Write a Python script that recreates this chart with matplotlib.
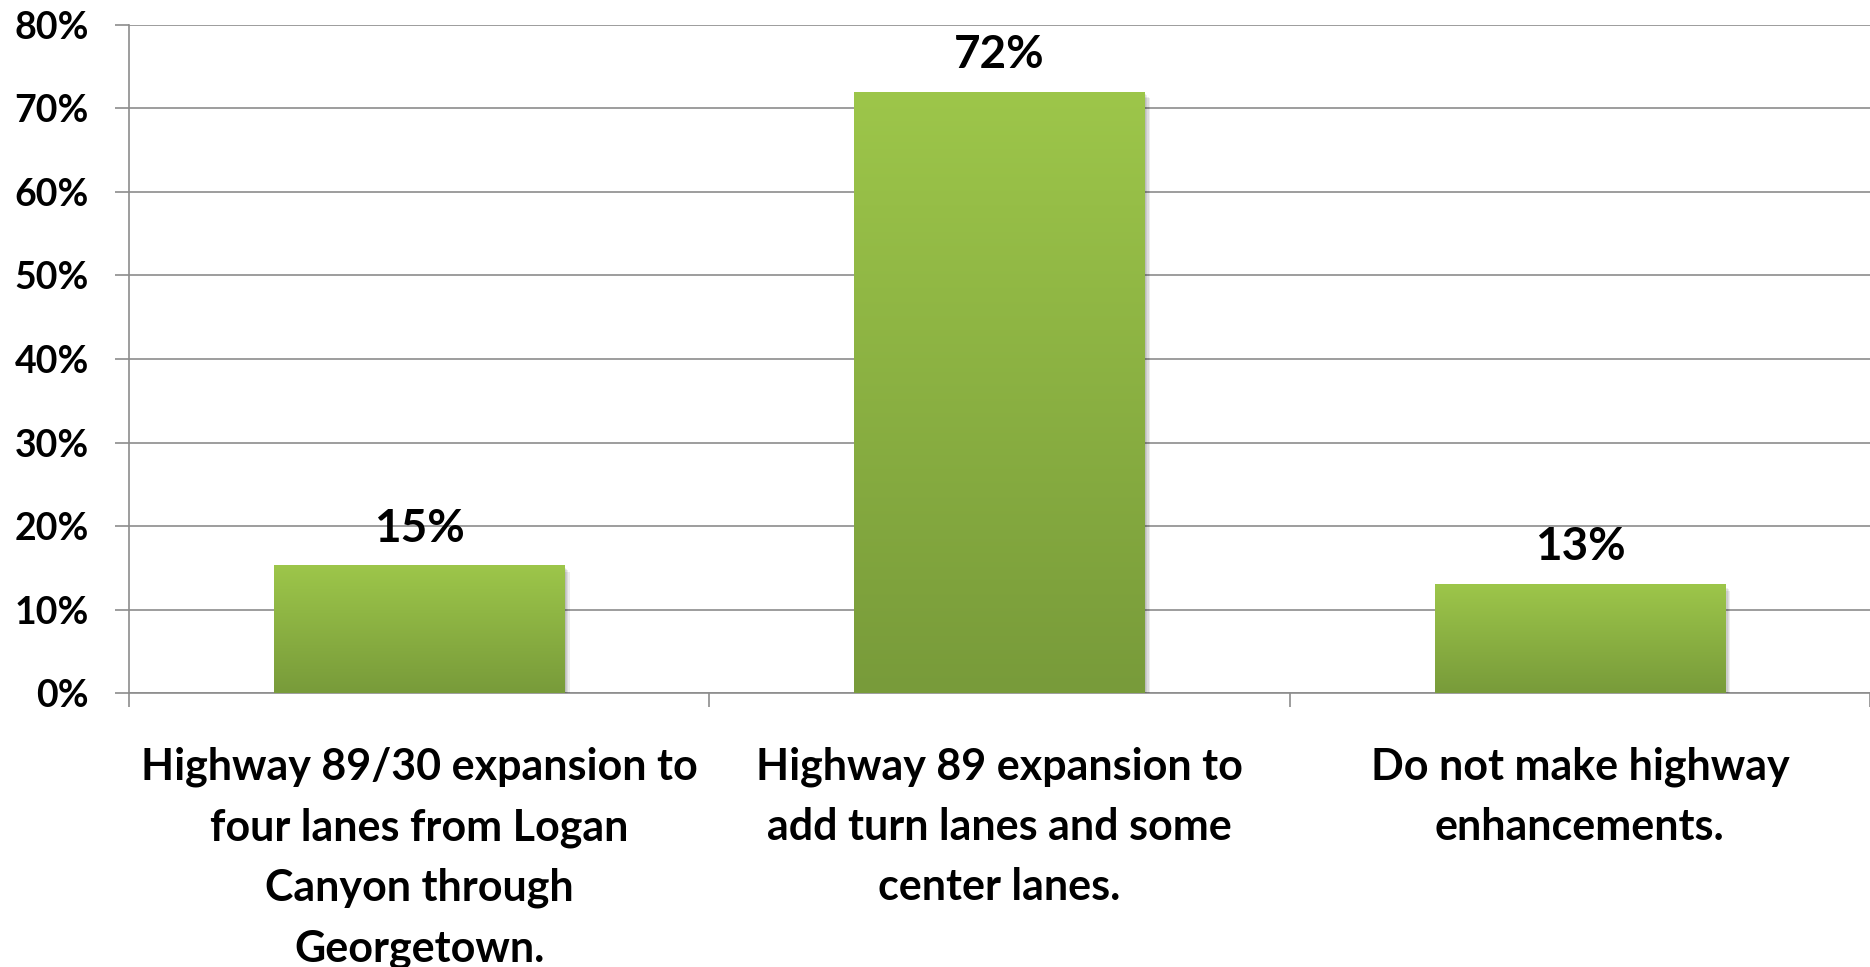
import numpy as np
import matplotlib
matplotlib.use("Agg")
import matplotlib.pyplot as plt
import matplotlib.patheffects as pe
from matplotlib.colors import LinearSegmentedColormap

categories = [
    "Highway 89/30 expansion to\nfour lanes from Logan\nCanyon through\nGeorgetown.",
    "Highway 89 expansion to\nadd turn lanes and some\ncenter lanes.",
    "Do not make highway\nenhancements.",
]
values = [15.2, 71.9, 12.95]
value_labels = ["15%", "72%", "13%"]
y_ticks = [0, 10, 20, 30, 40, 50, 60, 70, 80]
y_tick_labels = ["0%", "10%", "20%", "30%", "40%", "50%", "60%", "70%", "80%"]

plt.rcParams['font.family'] = ['Lato', 'DejaVu Sans']
plt.rcParams['font.weight'] = 'bold'

W, H = 1870, 967
fig = plt.figure(figsize=(W / 100, H / 100), dpi=100)
ax = fig.add_axes([129 / W, 1 - 693.3 / H, 1 - 129 / W, (693.3 - 24.7) / H])

grid_color = "#8c8c8c"
top_c = "#9dc64a"
bot_c = "#789b3a"
cmap = LinearSegmentedColormap.from_list("g", [bot_c, top_c])
grad = np.linspace(0, 1, 256).reshape(-1, 1)

x = np.arange(len(values))
bw = 0.5
shadow = [pe.SimplePatchShadow(offset=(o, -o), shadow_rgbFace="#000000", alpha=0.07) for o in (1, 2, 3, 4)]
bars = ax.bar(x, values, width=bw, color=top_c, zorder=3,
              path_effects=shadow + [pe.Normal()])
for b in bars:
    x0, w, h = b.get_x(), b.get_width(), b.get_height()
    ax.imshow(grad, extent=(x0, x0 + w, 0, h), origin="lower", aspect="auto",
              cmap=cmap, zorder=4, interpolation="bicubic")

for xi, v, lab in zip(x, values, value_labels):
    ax.annotate(lab, (xi, v), xytext=(0, 12), textcoords="offset points",
                ha="center", va="bottom", fontsize=33, fontweight="bold", color="black", zorder=5)

ax.set_xlim(-0.5, len(values) - 0.5)
ax.set_ylim(0, 80)
ax.set_yticks(y_ticks)
ax.set_yticklabels(y_tick_labels, fontsize=27, fontweight="bold")
ax.yaxis.grid(True, color=grid_color, linewidth=1.2, zorder=0)
ax.set_axisbelow(True)
ax.tick_params(axis="y", length=10, width=1.2, color=grid_color, pad=19)

ax.set_xticks(np.arange(-0.5, len(values)), minor=True)
ax.set_xticks(x)
ax.set_xticklabels([])
ax.tick_params(axis="x", which="major", length=0)
ax.tick_params(axis="x", which="minor", length=10, width=1.2, color=grid_color)

for xi, cat in zip(x, categories):
    ax.annotate(cat, (xi, 0), xytext=(0, -38), textcoords="offset points",
                ha="center", va="top", multialignment="center",
                fontsize=31, fontweight="bold", linespacing=1.62, annotation_clip=False)

for s in ["top", "right"]:
    ax.spines[s].set_visible(False)
ax.spines["left"].set_color(grid_color)
ax.spines["left"].set_linewidth(1.2)
ax.spines["bottom"].set_color(grid_color)
ax.spines["bottom"].set_linewidth(1.2)

fig.savefig("out.png", dpi=100)
